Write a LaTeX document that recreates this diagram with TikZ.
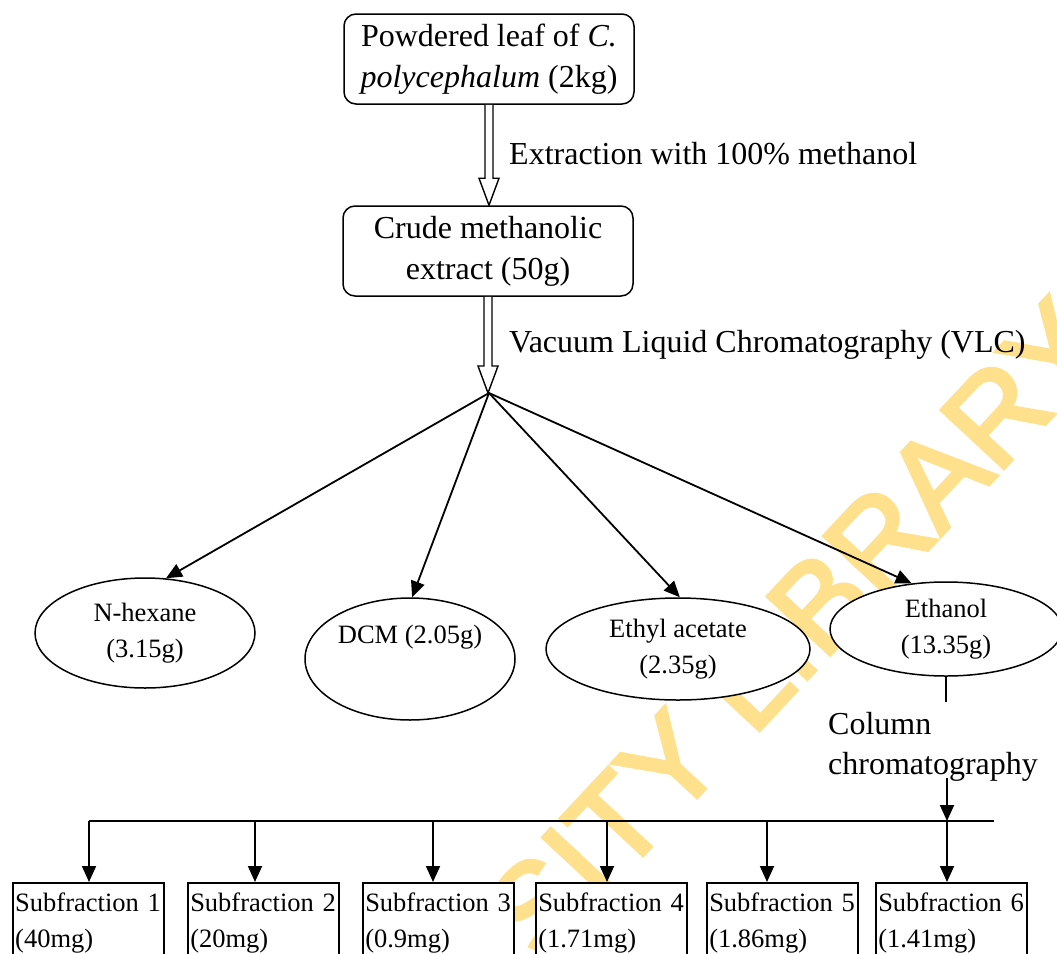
\documentclass[tikz,border=0pt]{standalone}
\usepackage{fontspec}
\setmainfont{Liberation Serif}
\newfontfamily\wmfont[FakeBold=3]{Liberation Sans}
\usetikzlibrary{shapes.geometric,arrows.meta,calc}
\definecolor{wmyellow}{RGB}{255,224,140}
\newcommand\hollowarr[2]{%
  \draw[hollow] let \p1=(#1), \p2=(#2) in
    (\x1-4pt,\y1) -- (\x1-4pt,\y2+27pt) -- (\x1-10pt,\y2+27pt) -- (\x1,\y2)
    -- (\x1+10pt,\y2+27pt) -- (\x1+4pt,\y2+27pt) -- (\x1+4pt,\y1);}
\begin{document}
\begin{tikzpicture}[x=1pt,y=-1pt,
  bigtxt/.style={font=\fontsize{32}{41}\selectfont},
  smalltxt/.style={font=\fontsize{26.5}{36}\selectfont},
  rbox/.style={draw, fill=white, line width=1.5pt, rounded corners=12pt, align=center, bigtxt,
    minimum width=290pt, minimum height=90pt, inner sep=0pt},
  ell/.style={draw, fill=white, ellipse, line width=1.5pt, smalltxt, align=center, inner sep=0pt},
  sfbox/.style={draw, fill=white, line width=1.5pt, smalltxt, align=left, anchor=north west,
    minimum width=151pt, minimum height=80pt, text width=146pt, inner xsep=2pt, inner ysep=0pt},
  arr/.style={line width=1.8pt, -{Triangle[length=16pt,width=14pt]}},
  ln/.style={line width=1.6pt},
  hollow/.style={line width=1.4pt, fill=white, line join=miter},
  wm/.style={font=\wmfont\fontsize{124}{124}\selectfont, text=wmyellow, inner sep=0pt}
]
\useasboundingbox (0,0) rectangle (1057,953);
\clip (0,0) rectangle (1057,953);
\fill[white] (0,0) rectangle (1057,953);

% watermark
\node[wm, rotate=47, anchor=base west] (wmark) at (480,1030) {RSITY LIBRARY};

% top boxes
\node[rbox] (top) at (489,59) {Powdered leaf of \textit{C.}\\\textit{polycephalum} (2kg)};
\node[rbox] (crude) at (488,251) {Crude methanolic\\extract (50g)};
\coordinate (fork) at (489,393);

\hollowarr{top.south}{crude.north}
\hollowarr{crude.south}{fork}

\node[bigtxt, anchor=base west, inner sep=0pt] (lab1) at (509,164) {Extraction with 100\% methanol};
\node[bigtxt, anchor=base west, inner sep=0pt] (lab2) at (509,352) {Vacuum Liquid Chromatography (VLC)};

% ellipses
\node[ell, minimum width=220pt, minimum height=110pt] (hex) at (145,633) {N-hexane\\(3.15g)};
\node[ell, minimum width=210pt, minimum height=122pt] (dcm) at (410,659) {};
\node[smalltxt, inner sep=0pt] (dcmt) at (410,637) {DCM (2.05g)};
\node[ell, minimum width=264pt, minimum height=102pt] (eth) at (678,649) {Ethyl acetate\\(2.35g)};
\node[ell, minimum width=232pt, minimum height=94pt] (etoh) at (946,629) {Ethanol\\(13.35g)};

\draw[arr] (fork) -- (hex.69);
\draw[arr] (fork) -- (dcm.88);
\draw[arr] (fork) -- (eth.88);
\draw[arr] (fork) -- (etoh.127);

% column chromatography
\coordinate (colA) at (947,702);
\draw[ln] (etoh.south) -- (etoh.south |- colA);
\node[bigtxt, anchor=base west, inner sep=0pt] (col1) at (828,734) {Column};
\node[bigtxt, anchor=base west, inner sep=0pt] (col2) at (828,774) {chromatography};

\coordinate (barL) at (89,821);
\coordinate (barR) at (994,821);
\coordinate (colB) at (947,778);
\draw[ln] (barL) -- (barR);
\draw[arr] (colB) -- (colB |- barL);

% subfractions
\node[sfbox] (sf1) at (12,882) {Subfraction 1\\(40mg)};
\node[sfbox] (sf2) at (187,882) {Subfraction 2\\(20mg)};
\node[sfbox] (sf3) at (362,882) {Subfraction 3\\(0.9mg)};
\node[sfbox] (sf4) at (535,882) {Subfraction 4\\(1.71mg)};
\node[sfbox] (sf5) at (706,882) {Subfraction 5\\(1.86mg)};
\node[sfbox] (sf6) at (875,882) {Subfraction 6\\(1.41mg)};

\coordinate (b2) at (255,821);
\coordinate (b3) at (433,821);
\coordinate (b4) at (607,821);
\coordinate (b5) at (767,821);
\coordinate (b6) at (947,821);
\draw[arr] (barL) -- (barL |- sf1.north);
\draw[arr] (b2) -- (b2 |- sf2.north);
\draw[arr] (b3) -- (b3 |- sf3.north);
\draw[arr] (b4) -- (b4 |- sf4.north);
\draw[arr] (b5) -- (b5 |- sf5.north);
\draw[arr] (b6) -- (b6 |- sf6.north);
\end{tikzpicture}
\end{document}
